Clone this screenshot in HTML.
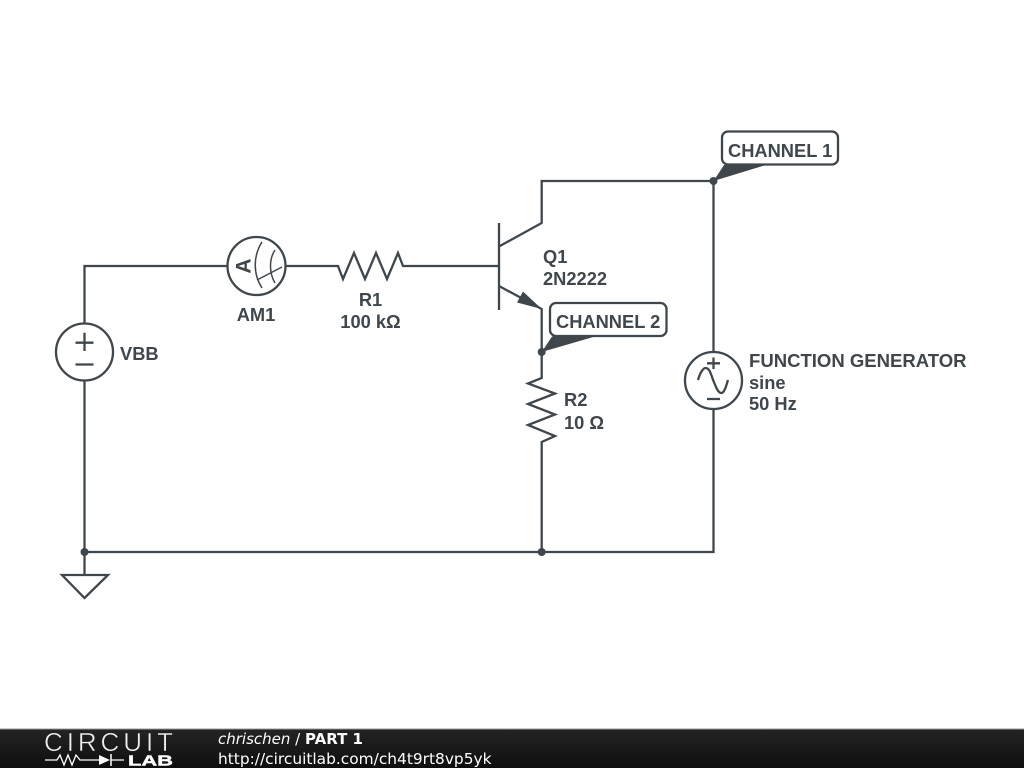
<!DOCTYPE html>
<html><head><meta charset="utf-8"><style>
html,body{margin:0;padding:0;background:#fff;width:1024px;height:768px;overflow:hidden}
svg{display:block;position:absolute;left:0;top:0}
text{font-family:"Liberation Sans",sans-serif;font-weight:bold;font-size:18.3px;fill:#3f474d}
.f{font-family:"DejaVu Sans",sans-serif;font-weight:normal;font-size:15.4px;fill:#fff}
</style></head><body>
<svg width="1024" height="768" viewBox="0 0 1024 768" xmlns="http://www.w3.org/2000/svg">
<defs><linearGradient id="g" x1="0" y1="0" x2="0" y2="1"><stop offset="0" stop-color="#242424"/><stop offset="1" stop-color="#0e0e0e"/></linearGradient></defs>
<g fill="none" stroke="#3f474d" stroke-width="2.3">
<path d="M227 266H84.500V323M84.500 381V552M84.500 552H713.500V409M713.500 352V181H541.700V223L499 246.500"/>
<path d="M286 266H338L343 279 354 253 365 279 376 253 387 279 398 253 403 266H499"/>
<path d="M499 223V310M499 286L541.700 309V378L528 383.500 555 393.500 528 404 555 414.500 528 425 555 436 541.700 442V552"/>
<circle cx="256.500" cy="266" r="29"/>
<circle cx="84.500" cy="352" r="28.500"/>
<circle cx="713.500" cy="380.500" r="28.500"/>
<path d="M84.500 552V575M62 575H108L84.500 598Z"/>
<path d="M75.500 342.700H93.500M84.500 332.700V351M75.500 364.500H93.500"/>
<path d="M707 363.300H720M713.500 357.500V369M707 399H720"/>
<path d="M698 380C700 373 703 368 705.500 368C710 368 711 375 713.500 381C716 387 718 393 721.500 393C724 393 726 387 728 380"/>
<path d="M262 242C253 256 253 274 262 288M275 250C269 259 269 273 275 283M257 280L282 267" stroke-width="1.500"/>
<rect x="722" y="131.500" width="116" height="33" rx="6" fill="#fff"/>
<rect x="550" y="303" width="116.500" height="33" rx="6" fill="#fff"/>
</g>
<g fill="#3f474d">
<path d="M523 291.500L541.700 309 517 302.500Z"/>
<path d="M713.500 181L724 165H766Z"/>
<path d="M541.700 352L552 336.500H595Z"/>
<circle cx="713.500" cy="181" r="4"/>
<circle cx="541.700" cy="352" r="4"/>
<circle cx="84.500" cy="552" r="4"/>
<circle cx="541.700" cy="552" r="4"/>
</g>
<text x="0" y="0" transform="translate(250.500 266) rotate(-90)" text-anchor="middle" style="font-size:21px">A</text>
<text x="728" y="157">CHANNEL 1</text>
<text x="556" y="328">CHANNEL 2</text>
<text x="543" y="263">Q1</text>
<text x="543" y="285">2N2222</text>
<text x="256" y="321" text-anchor="middle">AM1</text>
<text x="370.500" y="306" text-anchor="middle">R1</text>
<text x="370.500" y="328" text-anchor="middle">100 kΩ</text>
<text x="120" y="360">VBB</text>
<text x="564" y="406">R2</text>
<text x="564" y="429">10 Ω</text>
<text x="749" y="367" style="font-size:18.55px">FUNCTION GENERATOR</text>
<text x="749" y="389">sine</text>
<text x="749" y="410">50 Hz</text>
<rect x="0" y="729" width="1024" height="39" fill="url(#g)"/>
<rect x="0" y="728.500" width="1024" height="1" fill="#999"/>
<text x="44" y="751" style="font-family:'Liberation Sans',sans-serif;font-weight:normal;font-size:26px;fill:#eee;stroke:#1a1a1a;stroke-width:.5" textLength="129" lengthAdjust="spacing">CIRCUIT</text>
<path d="M45 760H57L60 755 64 765 68 755 72 765 76 755 80 760H99M111 760H124" fill="none" stroke="#fff" stroke-width="1.300"/>
<path d="M99 755V765L110 760Z" fill="#fff"/><path d="M111 754V766" stroke="#fff" stroke-width="1.500"/>
<text x="128" y="765.500" style="font-family:'Liberation Sans',sans-serif;font-weight:bold;font-size:14.500px;fill:#fff;stroke:#fff;stroke-width:.4" textLength="45" lengthAdjust="spacingAndGlyphs">LAB</text>
<text class="f" x="218" y="744" style="font-size:15px"><tspan font-style="italic">chrischen</tspan> / <tspan font-weight="bold">PART 1</tspan></text>
<text class="f" x="218" y="764">http://circuitlab.com/ch4t9rt8vp5yk</text>
</svg>
</body></html>
